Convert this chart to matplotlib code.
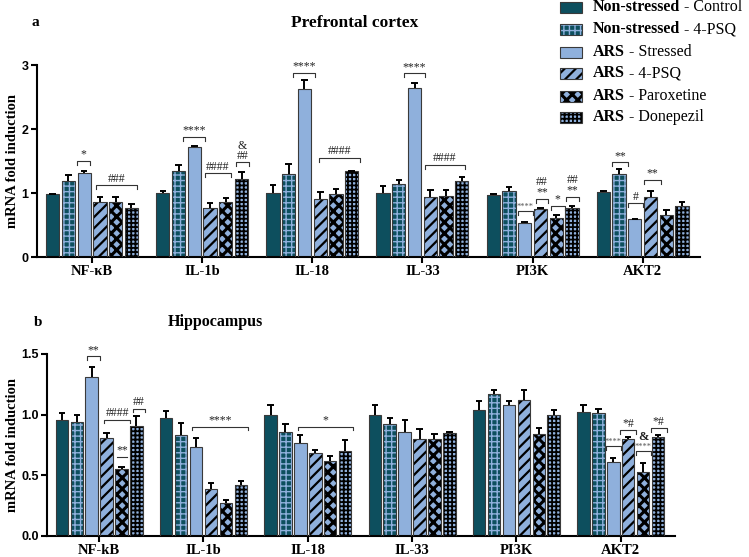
import numpy as np
import matplotlib
matplotlib.use('Agg')
import matplotlib.pyplot as plt
import matplotlib as mpl
from matplotlib.patches import Rectangle

mpl.rcParams['font.family'] = 'Liberation Serif'
mpl.rcParams['xtick.direction'] = 'out'
mpl.rcParams['ytick.direction'] = 'out'

# ---- data ----
pfc_genes = ['NF-κB', 'IL-1b', 'IL-18', 'IL-33', 'PI3K', 'AKT2']
hip_genes = ['NF-kB', 'IL-1b', 'IL-18', 'IL-33', 'PI3K', 'AKT2']
group_bold = ['Non-stressed', 'Non-stressed', 'ARS', 'ARS', 'ARS', 'ARS']
group_rest = [' - Control', ' - 4-PSQ', ' - Stressed', ' - 4-PSQ', ' - Paroxetine', ' - Donepezil']

# rows = treatment groups, columns = genes
pfc_mean = [[0.98, 1.00, 1.00, 1.00, 0.97, 1.02],
            [1.19, 1.34, 1.30, 1.14, 1.03, 1.30],
            [1.31, 1.72, 2.62, 2.64, 0.53, 0.59],
            [0.86, 0.77, 0.91, 0.94, 0.75, 0.93],
            [0.86, 0.86, 0.98, 0.96, 0.61, 0.66],
            [0.77, 1.22, 1.34, 1.19, 0.77, 0.79]]
pfc_err = [[0.01, 0.03, 0.12, 0.11, 0.01, 0.01],
           [0.09, 0.09, 0.15, 0.06, 0.06, 0.07],
           [0.03, 0.02, 0.14, 0.08, 0.01, 0.01],
           [0.08, 0.07, 0.11, 0.11, 0.02, 0.10],
           [0.07, 0.06, 0.08, 0.09, 0.04, 0.07],
           [0.06, 0.11, 0.01, 0.06, 0.02, 0.07]]

hip_mean = [[0.96, 0.97, 1.00, 1.00, 1.04, 1.02],
            [0.94, 0.83, 0.86, 0.92, 1.17, 1.01],
            [1.31, 0.73, 0.77, 0.86, 1.08, 0.61],
            [0.81, 0.39, 0.68, 0.80, 1.12, 0.80],
            [0.55, 0.27, 0.62, 0.80, 0.84, 0.53],
            [0.91, 0.42, 0.70, 0.85, 1.00, 0.82]]
hip_err = [[0.05, 0.06, 0.08, 0.08, 0.07, 0.06],
           [0.06, 0.10, 0.06, 0.05, 0.03, 0.04],
           [0.08, 0.08, 0.06, 0.10, 0.03, 0.03],
           [0.04, 0.05, 0.03, 0.08, 0.08, 0.02],
           [0.02, 0.03, 0.04, 0.04, 0.05, 0.07],
           [0.08, 0.03, 0.09, 0.01, 0.04, 0.01]]

# significance brackets: (gene, from bar, to bar, y, label, has ticks, small)
pfc_sig = [(0, 1.55, 2.40, 1.50, '*', True, False),
           (0, 2.75, 5.35, 1.12, '###', True, False),
           (1, 1.30, 2.70, 1.88, '****', True, False),
           (1, 2.70, 4.30, 1.31, '####', True, False),
           (1, 4.65, 5.45, 1.48, '&\n##', True, False),
           (2, 1.30, 2.70, 2.88, '****', True, False),
           (2, 2.90, 5.50, 1.55, '####', True, False),
           (3, 1.30, 2.65, 2.87, '****', True, False),
           (3, 2.65, 5.20, 1.44, '####', True, False),
           (4, 1.55, 2.50, 0.72, '****', True, True),
           (4, 2.70, 3.50, 0.91, '##\n**', True, False),
           (4, 3.65, 4.55, 0.80, '*', True, False),
           (4, 4.60, 5.45, 0.94, '##\n**', True, False),
           (5, 0.55, 1.55, 1.48, '**', True, False),
           (5, 1.55, 2.50, 0.84, '#', True, False),
           (5, 2.55, 3.65, 1.20, '**', True, False)]
hip_sig = [(0, 1.70, 2.55, 1.48, '**', True, False),
           (0, 2.85, 4.55, 0.96, '####', True, False),
           (0, 4.75, 5.55, 1.05, '##', True, False),
           (0, 3.70, 4.35, 0.65, '**', False, False),
           (1, 1.75, 5.50, 0.90, '****', True, False),
           (2, 1.85, 5.55, 0.90, '*', True, False),
           (5, 1.50, 2.50, 0.74, '****', True, True),
           (5, 2.45, 3.50, 0.87, '*#', True, False),
           (5, 3.55, 4.50, 0.70, '****', True, True),
           (5, 4.50, 5.60, 0.89, '*#', True, False)]
hip_marks = [(5, 4.05, 0.77, '&')]

# ---- styling ----
dark = '#0d4f5e'
light = '#8fb0dc'
styles = [(dark, None, None, 1.0),
          (dark, '+++', light, 1.0),
          (light, None, None, 1.0),
          (light, '///', 'black', 1.6),
          (light, 'xxx', 'black', 2.2),
          (light, '++++', 'black', 1.3)]

slot = 0.143
width = 0.12


def hatched_rect(ax, x, y, w, h, k, transform=None):
    face, hatch, hcol, hlw = styles[k]
    kw = {} if transform is None else {'transform': transform}
    with mpl.rc_context({'hatch.linewidth': hlw}):
        p = Rectangle((x, y), w, h, facecolor=face,
                      edgecolor=hcol if hcol else face, linewidth=0,
                      hatch=hatch, zorder=2, **kw)
        if hasattr(p, 'set_hatch_linewidth'):
            p.set_hatch_linewidth(hlw)
        ax.add_patch(p)
    ax.add_patch(Rectangle((x, y), w, h, fill=False, edgecolor='#3a3a3a',
                           linewidth=0.8, zorder=3, **kw))


def panel(ax, genes, mean, err, sig, ymax, tick_h, yticks, ylabels):
    for k in range(6):
        for g in range(6):
            xc = g + (k - 2.5) * slot
            hatched_rect(ax, xc - width / 2, 0, width, mean[k][g], k)
            top = mean[k][g] + err[k][g]
            ax.vlines(xc, mean[k][g], top, color='black', lw=1.4, zorder=4)
            ax.hlines(top, xc - 0.03, xc + 0.03, color='black', lw=1.4, zorder=4)
    for g, b0, b1, y, lab, ticks, small in sig:
        x0 = g + (b0 - 2.5) * slot
        x1 = g + (b1 - 2.5) * slot
        if ticks:
            ax.plot([x0, x0, x1, x1], [y - tick_h, y, y, y - tick_h],
                    color='#333333', lw=0.8, zorder=5)
        else:
            ax.plot([x0, x1], [y, y], color='#333333', lw=0.8, zorder=5)
        ax.text((x0 + x1) / 2, y + tick_h * 0.1, lab, ha='center', va='bottom',
                fontsize=6 if small else 8.5, color='#555555' if small else '#222222',
                linespacing=0.8, zorder=5)
    ax.set_ylim(0, ymax)
    ax.set_xlim(-0.5, 5.52)
    ax.set_xticks(range(6))
    ax.set_xticklabels(genes, fontsize=10.5, fontweight='bold')
    ax.set_yticks(yticks)
    ax.set_yticklabels(ylabels, fontsize=9, fontweight='bold', family='Liberation Sans')
    ax.spines['top'].set_visible(False)
    ax.spines['right'].set_visible(False)
    ax.spines['left'].set_linewidth(1.5)
    ax.spines['bottom'].set_linewidth(1.5)
    ax.tick_params(length=4, width=1.5, pad=2)
    ax.set_ylabel('mRNA fold induction', fontsize=10.5, fontweight='bold', labelpad=4)


fig = plt.figure(figsize=(7.49, 5.57), dpi=100)
ax1 = fig.add_axes([37 / 749, 1 - 257 / 557, 663 / 749, 192 / 557])
ax2 = fig.add_axes([47 / 749, 1 - 536 / 557, 628 / 749, 182 / 557])

panel(ax1, pfc_genes, pfc_mean, pfc_err, pfc_sig, 3, 0.06, [0, 1, 2, 3], ['0', '1', '2', '3'])
panel(ax2, hip_genes, hip_mean, hip_err, hip_sig, 1.5, 0.03,
      [0, 0.5, 1.0, 1.5], ['0.0', '0.5', '1.0', '1.5'])
for g, b, y, lab in hip_marks:
    ax2.text(g + (b - 2.5) * slot, y, lab, ha='center', va='bottom', fontsize=9,
             fontweight='bold', color='#222222', zorder=5)

ax1.yaxis.set_label_coords(-0.027, 0.5)
ax2.yaxis.set_label_coords(-0.045, 0.5)

# panel letters and titles
fig.text(35 / 749, 1 - 23 / 557, 'a', fontsize=11, fontweight='bold', ha='center', va='center')
fig.text(355 / 749, 1 - 23 / 557, 'Prefrontal cortex', fontsize=12.5, fontweight='bold',
         ha='center', va='center')
fig.text(38 / 749, 1 - 322 / 557, 'b', fontsize=11, fontweight='bold', ha='center', va='center')
fig.text(215 / 749, 1 - 322 / 557, 'Hippocampus', fontsize=11.5, fontweight='bold',
         ha='center', va='center')

# legend built by hand (bold group name + regular treatment)
leg = fig.add_axes([0, 0, 1, 1])
leg.set_xlim(0, 749)
leg.set_ylim(557, 0)
leg.axis('off')
row_y = [7, 29, 52, 73, 96, 117]
for k in range(6):
    hatched_rect(leg, 560, row_y[k] - 5.5, 22, 11, k)
    t = leg.text(593, row_y[k], group_bold[k], fontsize=11.5, fontweight='bold',
                 va='center', ha='left')
    leg.annotate(group_rest[k], xy=(1, 0), xycoords=t, va='bottom', ha='left',
                 fontsize=11.5)

fig.savefig('out.png', dpi=100)
